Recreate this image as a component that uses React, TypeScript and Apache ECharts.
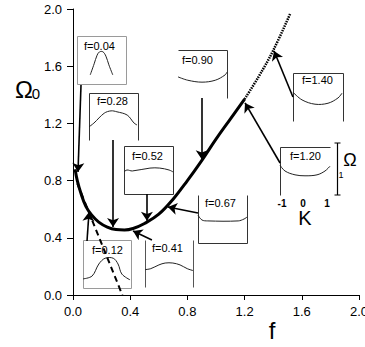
import React, { useEffect, useRef } from "react";
import * as echarts from "echarts";

// Main dispersion minimum curve Omega0(f)
const curveF = [0.015, 0.03, 0.056, 0.09, 0.13, 0.18, 0.24, 0.30, 0.36, 0.42, 0.50, 0.60, 0.70, 0.80, 0.90, 1.00, 1.10, 1.20];
const curveOmega = [0.88, 0.80, 0.71, 0.62, 0.56, 0.51, 0.475, 0.458, 0.455, 0.465, 0.50, 0.565, 0.67, 0.80, 0.94, 1.09, 1.23, 1.37];
// Dotted continuation
const tailF = [1.20, 1.30, 1.40, 1.52];
const tailOmega = [1.37, 1.53, 1.71, 1.97];
// Dashed line
const dashF = [0.03, 0.345];
const dashOmega = [0.78, 0.0];

// Insets (f values of the band sketches)
const insetF = [0.04, 0.28, 0.52, 0.90, 1.40, 1.20, 0.67, 0.41, 0.12];
// Arrows: from inset to curve
const arrowFromF = [0.056, 0.28, 0.517, 0.90, 1.538, 1.448, 0.874, 0.552, 0.098];
const arrowFromOmega = [1.469, 1.084, 0.706, 1.378, 1.385, 0.923, 0.573, 0.385, 0.378];
const arrowToF = [0.035, 0.28, 0.517, 0.90, 1.406, 1.203, 0.664, 0.42, 0.112];
const arrowToOmega = [0.86, 0.475, 0.52, 0.95, 1.706, 1.343, 0.615, 0.448, 0.58];

// Band shapes inside insets (fraction of inset width, fraction of inset height from top)
const bandShapes: number[][][] = [
  [[0.27, 0.81], [0.35, 0.58], [0.41, 0.40], [0.46, 0.33], [0.53, 0.33], [0.59, 0.42], [0.65, 0.60], [0.73, 0.81]],
  [[0.0, 0.72], [0.10, 0.64], [0.31, 0.43], [0.45, 0.38], [0.57, 0.40], [0.78, 0.47], [0.92, 0.64], [0.98, 0.68]],
  [[0.0, 0.54], [0.06, 0.50], [0.17, 0.52], [0.53, 0.46], [0.73, 0.46], [0.92, 0.50], [1.0, 0.54]],
  [[0.0, 0.56], [0.20, 0.63], [0.49, 0.67], [0.76, 0.63], [0.96, 0.52], [1.0, 0.46]],
  [[0.0, 0.40], [0.18, 0.56], [0.44, 0.65], [0.70, 0.63], [0.90, 0.52], [0.98, 0.42]],
  [[0.0, 0.38], [0.10, 0.50], [0.30, 0.58], [0.50, 0.60], [0.74, 0.58], [0.90, 0.50], [1.0, 0.40]],
  [[0.0, 0.42], [0.08, 0.52], [0.20, 0.54], [0.82, 0.54], [0.94, 0.50], [1.0, 0.46]],
  [[0.0, 0.63], [0.12, 0.61], [0.29, 0.53], [0.42, 0.49], [0.58, 0.49], [0.73, 0.53], [0.88, 0.61], [1.0, 0.65]],
  [[0.0, 0.81], [0.19, 0.75], [0.33, 0.50], [0.46, 0.38], [0.63, 0.38], [0.73, 0.50], [0.81, 0.71], [0.98, 0.83]],
];
const kTickLabels = ["-1", "0", "1"];
const omegaScaleLabel = "1";

// Layout of insets (top-left corner in data coordinates)
const insetLayout = [
  { corner: [0.028, 1.811], w: 49, h: 48, sides: "tlrb", color: "#9a9a9a", label: [7, 10] },
  { corner: [0.112, 1.413], w: 49, h: 47, sides: "tlr", color: "#333", label: [8, 8] },
  { corner: [0.357, 1.042], w: 49, h: 48, sides: "tlrb", color: "#333", label: [8, 10] },
  { corner: [0.734, 1.713], w: 49, h: 48, sides: "tr", color: "#333", label: [4, 10] },
  { corner: [1.538, 1.552], w: 50, h: 48, sides: "tlr", color: "#333", label: [9, 7] },
  { corner: [1.448, 1.035], w: 50, h: 48, sides: "tl", color: "#333", label: [10, 9] },
  { corner: [0.874, 0.699], w: 49, h: 48, sides: "lrb", color: "#333", label: [7, 8] },
  { corner: [0.503, 0.385], w: 48, h: 47, sides: "lr", color: "#555", label: [7, 8] },
  { corner: [0.070, 0.385], w: 48, h: 48, sides: "tlrb", color: "#9a9a9a", label: [9, 10] },
];

const FONT = "'Liberation Sans', Arial, Helvetica, sans-serif";

export default function App() {
  const ref = useRef<HTMLDivElement>(null);
  useEffect(() => {
    if (!ref.current) return;
    const chart = echarts.init(ref.current, null, { renderer: "svg" });
    const pairs = (xs: number[], ys: number[]) => xs.map((x, i) => [x, ys[i]]);
    const axisCommon = {
      type: "value",
      min: 0,
      max: 2,
      interval: 0.4,
      axisLine: { show: true, lineStyle: { color: "#000", width: 1 } },
      axisTick: { show: true, inside: false, lineStyle: { color: "#000", width: 1 } },
      splitLine: { show: false },
    };
    chart.setOption({
      animation: false,
      grid: { left: 73, right: 6, top: 9, bottom: 52, containLabel: false, outerBoundsMode: "none" },
      xAxis: {
        ...axisCommon,
        axisTick: { ...axisCommon.axisTick, length: 5 },
        axisLabel: { formatter: (v: number) => v.toFixed(1), color: "#000", fontSize: 13, margin: 10, fontFamily: FONT },
      },
      yAxis: {
        ...axisCommon,
        axisTick: { ...axisCommon.axisTick, length: 6 },
        axisLabel: { formatter: (v: number) => v.toFixed(1), color: "#000", fontSize: 13, margin: 11, fontFamily: FONT },
      },
      series: [
        {
          type: "line",
          data: pairs(curveF, curveOmega),
          smooth: 0.4,
          symbol: "none",
          lineStyle: { color: "#000", width: 3 },
          z: 3,
        },
        {
          type: "line",
          data: pairs(tailF, tailOmega),
          smooth: 0.4,
          symbol: "none",
          lineStyle: { color: "#000", width: 2.5, type: [1.5, 1] },
          z: 3,
        },
        {
          type: "line",
          data: pairs(dashF, dashOmega),
          symbol: "none",
          lineStyle: { color: "#000", width: 2, type: [6, 4] },
          z: 2,
        },
        {
          type: "lines",
          coordinateSystem: "cartesian2d",
          symbol: ["none", "arrow"],
          symbolSize: 9,
          lineStyle: { color: "#000", width: 1.6, opacity: 1, curveness: 0 },
          data: arrowFromF.map((f, i) => ({
            coords: [
              [f, arrowFromOmega[i]],
              [arrowToF[i], arrowToOmega[i]],
            ],
          })),
          z: 4,
        },
      ],
    });

    const g: any[] = [];
    insetF.forEach((fv, i) => {
      const L = insetLayout[i];
      const p = chart.convertToPixel({ gridIndex: 0 }, L.corner) as number[];
      const px = Math.round(p[0]);
      const py = Math.round(p[1]);
      const stroke = L.color;
      const X0 = px + 0.5, Y0 = py + 0.5, X1 = px + L.w + 0.5, Y1 = py + L.h + 0.5;
      const side = (x1: number, y1: number, x2: number, y2: number) =>
        g.push({ type: "line", silent: true, shape: { x1, y1, x2, y2 }, style: { stroke, lineWidth: 1 } });
      if (L.sides.includes("t")) side(X0, Y0, X1, Y0);
      if (L.sides.includes("b")) side(X0, Y1, X1, Y1);
      if (L.sides.includes("l")) side(X0, Y0, X0, Y1);
      if (L.sides.includes("r")) side(X1, Y0, X1, Y1);
      g.push({
        type: "text",
        silent: true,
        x: px + L.label[0],
        y: py + L.label[1],
        style: { text: "f=" + fv.toFixed(2), font: `11px ${FONT}`, fill: "#000", align: "left", verticalAlign: "middle" },
      });
      g.push({
        type: "polyline",
        silent: true,
        shape: { points: bandShapes[i].map(([u, v]) => [px + u * L.w, py + v * L.h]), smooth: 0.35 },
        style: { stroke: "#222", lineWidth: 1, fill: "none" },
      });
      if (fv === 1.2) {
        const bx = px + 57.5;
        g.push({ type: "line", silent: true, shape: { x1: bx, y1: py - 4, x2: bx, y2: py + 48 }, style: { stroke: "#000", lineWidth: 1.2 } });
        g.push({ type: "line", silent: true, shape: { x1: bx - 3, y1: py - 4, x2: bx + 3, y2: py - 4 }, style: { stroke: "#000", lineWidth: 1 } });
        g.push({ type: "line", silent: true, shape: { x1: bx - 3, y1: py + 48, x2: bx + 3, y2: py + 48 }, style: { stroke: "#000", lineWidth: 1 } });
        g.push({ type: "text", silent: true, x: px + 70, y: py + 13, style: { text: "Ω", font: `18px ${FONT}`, fill: "#000", align: "center", verticalAlign: "middle" } });
        g.push({ type: "text", silent: true, x: px + 61, y: py + 28, style: { text: omegaScaleLabel, font: `9px ${FONT}`, fill: "#000", align: "center", verticalAlign: "middle" } });
        const kx = [2, 23, 47];
        kTickLabels.forEach((t, k) =>
          g.push({ type: "text", silent: true, x: px + kx[k], y: py + 56, style: { text: t, font: `bold 10px ${FONT}`, fill: "#000", align: "center", verticalAlign: "middle" } })
        );
        g.push({ type: "text", silent: true, x: px + 25, y: py + 71, style: { text: "K", font: `20px ${FONT}`, fill: "#000", align: "center", verticalAlign: "middle" } });
      }
    });
    // axis names
    g.push({ type: "text", silent: true, x: 24, y: 89, style: { text: "Ω", font: `24px ${FONT}`, fill: "#000", align: "center", verticalAlign: "middle" } });
    g.push({ type: "text", silent: true, x: 36, y: 93, style: { text: "0", font: `15px ${FONT}`, fill: "#000", align: "center", verticalAlign: "middle" } });
    g.push({ type: "text", silent: true, x: 272, y: 330, style: { text: "f", font: `24px ${FONT}`, fill: "#000", align: "center", verticalAlign: "middle" } });

    chart.setOption({ graphic: g });
    return () => chart.dispose();
  }, []);
  return <div ref={ref} style={{ position: "fixed", left: 0, top: 0, width: 365, height: 347, background: "#fff" }} />;
}
